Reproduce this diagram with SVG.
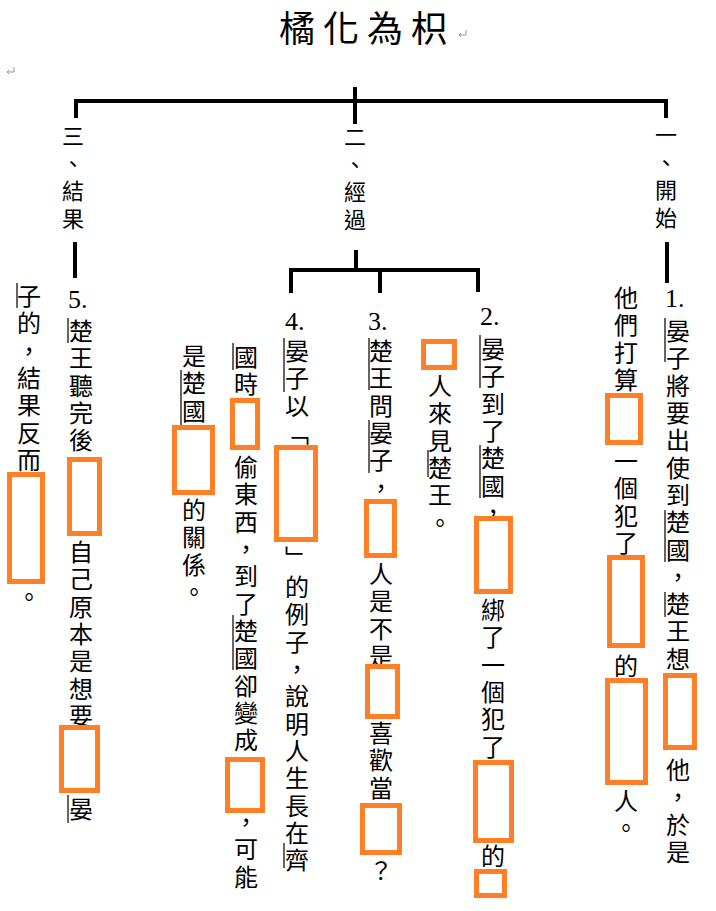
<svg xmlns="http://www.w3.org/2000/svg" width="716" height="911" viewBox="0 0 716 911">
<style>
.v{writing-mode:vertical-rl;font-family:"Noto Sans CJK TC","Noto Sans CJK SC",sans-serif;font-size:24px;letter-spacing:3.3px;fill:#000;}
.h{writing-mode:vertical-rl;font-family:"Noto Sans CJK TC","Noto Sans CJK SC",sans-serif;font-size:22px;letter-spacing:5.5px;fill:#000;}
.num{font-family:"Liberation Serif",serif;font-size:26px;fill:#000;}
.title{font-family:"Noto Sans CJK TC","Noto Sans CJK SC",sans-serif;font-size:36px;letter-spacing:8px;fill:#000;}
.box{fill:none;stroke:#FF7F27;stroke-width:5;}
.conn{fill:none;stroke:#000;stroke-width:4;}
.pn{stroke:#000;stroke-width:1.2;}
.mark{fill:none;stroke:#999;stroke-width:1;}
</style>
<rect width="716" height="911" fill="#fff"/>
<g id="title"><text class="title" x="279" y="42">橘化為枳</text></g>
<g id="connectors">
<path class="conn" d="M76,118 V101 H666 V118"/>
<path class="conn" d="M355,87 V124"/>
<path class="conn" d="M667,242 V283"/>
<path class="conn" d="M75,242 V278"/>
<path class="conn" d="M356,250 V270"/>
<path class="conn" d="M291,293 V270 H478 V292"/>
<path class="conn" d="M380,270 V293"/>
</g>
<g id="h1"><text class="h" x="666" y="124">一、開始</text></g>
<g id="h2"><text class="h" x="355" y="126">二、經過</text></g>
<g id="h3"><text class="h" x="73" y="125">三、結果</text></g>
<g id="item1">
<text class="num" x="665" y="307">1.</text>
<text class="v" x="678" y="319">晏子將要出使到楚國，楚王想</text>
<rect class="box" x="665.5" y="675.5" width="29" height="72"/>
<text class="v" x="678" y="758">他，於是</text>
<text class="v" x="626" y="286">他們打算</text>
<rect class="box" x="607.5" y="395.5" width="33" height="47"/>
<text class="v" x="626" y="449">一個犯了</text>
<rect class="box" x="609.5" y="557.5" width="33" height="88"/>
<text class="v" x="626" y="654">的</text>
<rect class="box" x="607.5" y="680.5" width="38" height="102"/>
<text class="v" x="626" y="789">人。</text>
<path class="pn" d="M665,318 V362 M665,510 V562 M665,592 V617"/>
</g>
<g id="item2">
<text class="num" x="480" y="325">2.</text>
<text class="v" x="493" y="337">晏子到了楚國，</text>
<rect class="box" x="476.5" y="518.5" width="34" height="73"/>
<text class="v" x="493" y="598">綁了一個犯了</text>
<rect class="box" x="475.5" y="762.5" width="36" height="78"/>
<text class="v" x="493" y="844">的</text>
<rect class="box" x="476.5" y="871.5" width="28" height="24"/>
<rect class="box" x="423.5" y="341.5" width="31" height="26"/>
<text class="v" x="440" y="374">人來見楚王。</text>
<path class="pn" d="M480,335 V388 M480,445 V498 M428,450 V477"/>
</g>
<g id="item3">
<text class="num" x="368" y="330">3.</text>
<text class="v" x="381" y="339">楚王問晏子，</text>
<rect class="box" x="366.5" y="501.5" width="28" height="54"/>
<text class="v" x="381" y="562">人是不是</text>
<rect class="box" x="367.5" y="666.5" width="30" height="50"/>
<text class="v" x="381" y="721">喜歡當</text>
<rect class="box" x="362.5" y="805.5" width="37" height="47"/>
<text class="v" x="381" y="859">？</text>
<path class="pn" d="M369,338 V390 M369,420 V473"/>
</g>
<g id="item4">
<text class="num" x="285" y="330">4.</text>
<text class="v" x="297" y="339">晏子以「</text>
<rect class="box" x="276.5" y="447.5" width="39" height="92"/>
<text class="v" x="297" y="546">」</text>
<text class="v" x="297" y="575">的例子，說明人生長在齊</text>
<text class="v" x="246" y="345">國時</text>
<rect class="box" x="232.5" y="400.5" width="25" height="47"/>
<text class="v" x="246" y="455">偷東西，到了楚國卻變成</text>
<rect class="box" x="227.5" y="759.5" width="35" height="51"/>
<text class="v" x="246" y="810">，可能</text>
<text class="v" x="194" y="344">是楚國</text>
<rect class="box" x="174.5" y="427.5" width="38" height="65"/>
<text class="v" x="194" y="498">的關係。</text>
<path class="pn" d="M284,338 V392 M284,843 V868 M233,343 V370 M233,615 V670 M181,370 V425"/>
</g>
<g id="item5">
<text class="num" x="68" y="308">5.</text>
<text class="v" x="81" y="319">楚王聽完後</text>
<rect class="box" x="69.5" y="459.5" width="30" height="74"/>
<text class="v" x="81" y="540">自己原本是想要</text>
<rect class="box" x="61.5" y="727.5" width="36" height="63"/>
<text class="v" x="81" y="797">晏</text>
<text class="v" x="29" y="284">子的，結果反而</text>
<rect class="box" x="9.5" y="474.5" width="33" height="107"/>
<text class="v" x="29" y="585">。</text>
<path class="pn" d="M68,318 V343 M68,795 V823 M17,283 V308"/>
</g>
<g id="marks">
<path class="mark" d="M466,30 V35 H459 M461,33 L459,35 L461,37"/>
<path class="mark" d="M14,67 V72 H7 M9,70 L7,72 L9,74"/>
</g>
</svg>
